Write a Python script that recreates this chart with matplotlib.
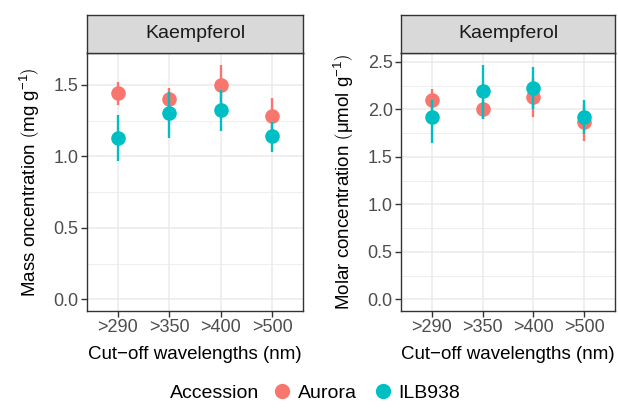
import matplotlib.pyplot as plt
import numpy as np
from matplotlib.lines import Line2D
from matplotlib.offsetbox import HPacker

plt.rcParams['font.family'] = ['Liberation Sans', 'DejaVu Sans']
plt.rcParams['mathtext.fontset'] = 'custom'
plt.rcParams['mathtext.rm'] = 'Liberation Sans'
plt.rcParams['mathtext.it'] = 'Liberation Sans:italic'

# Données
categories = ['>290', '>350', '>400', '>500']
accessions = ['Aurora', 'ILB938']
colors = {'Aurora': '#F8766D', 'ILB938': '#00BFC4'}

mass_mean = {'Aurora': [1.44, 1.40, 1.50, 1.28],
             'ILB938': [1.13, 1.30, 1.32, 1.14]}
mass_low = {'Aurora': [1.36, 1.33, 1.36, 1.15],
            'ILB938': [0.97, 1.13, 1.18, 1.03]}
mass_high = {'Aurora': [1.52, 1.48, 1.64, 1.41],
             'ILB938': [1.29, 1.45, 1.46, 1.24]}

molar_mean = {'Aurora': [2.10, 2.00, 2.13, 1.87],
              'ILB938': [1.92, 2.19, 2.22, 1.92]}
molar_low = {'Aurora': [2.00, 1.90, 1.92, 1.67],
             'ILB938': [1.65, 1.90, 2.00, 1.74]}
molar_high = {'Aurora': [2.21, 2.10, 2.33, 2.05],
              'ILB938': [2.10, 2.47, 2.45, 2.10]}

W, H = 618, 412
fig = plt.figure(figsize=(W / 100, H / 100), dpi=100)


def px_axes(x0, y0, x1, y1):
    # coordonnées en pixels (origine en haut à gauche)
    return fig.add_axes([x0 / W, 1 - y1 / H, (x1 - x0) / W, (y1 - y0) / H])


def panel(x0, x1, mean, low, high, ylabel, yticks, minor):
    ax = px_axes(x0, 53, x1, 311)
    strip = px_axes(x0, 15, x1, 53)
    strip.set_facecolor('#D9D9D9')
    strip.set_xticks([])
    strip.set_yticks([])
    for s in strip.spines.values():
        s.set_color('#333333')
        s.set_linewidth(1.0)
    strip.text(0.5, 0.5, 'Kaempferol', ha='center', va='center',
               fontsize=14, color='#1A1A1A', transform=strip.transAxes)

    xs = np.arange(1, len(categories) + 1)
    for acc in accessions:
        c = colors[acc]
        ax.vlines(xs, low[acc], high[acc], color=c, lw=1.7, zorder=3)
        ax.plot(xs, mean[acc], 'o', color=c, ms=10.5, mew=0, zorder=3)

    top = max(max(high[a]) for a in accessions)
    pad = 0.05 * top
    ax.set_ylim(-pad, top + pad)
    ax.set_xlim(0.4, 4.6)
    ax.set_xticks(xs)
    ax.set_xticklabels(categories)
    ax.set_yticks(yticks)
    ax.set_yticklabels(['%.1f' % v for v in yticks])
    ax.set_yticks(minor, minor=True)
    ax.grid(True, which='major', color='#EBEBEB', lw=1.1, zorder=0)
    ax.grid(True, which='minor', axis='y', color='#EBEBEB', lw=0.6, zorder=0)
    ax.set_axisbelow(True)
    ax.tick_params(axis='both', which='major', length=4, width=1.0,
                   color='#333333', labelcolor='#4D4D4D', labelsize=13, pad=2)
    ax.tick_params(axis='y', which='minor', length=0)
    for s in ax.spines.values():
        s.set_color('#333333')
        s.set_linewidth(1.0)
    ax.set_xlabel('Cut\u2212off wavelengths (nm)', fontsize=13.5, color='black', labelpad=7)
    ax.set_ylabel(ylabel, fontsize=13.5, color='black', labelpad=8)
    return ax


panel(87, 303, mass_mean, mass_low, mass_high,
      r'Mass oncentration $\left(\mathrm{mg\ g^{-1}}\right)$',
      [0.0, 0.5, 1.0, 1.5], [0.25, 0.75, 1.25])
panel(401, 615, molar_mean, molar_low, molar_high,
      r'Molar concentration $\left(\mathrm{\mu mol\ g^{-1}}\right)$',
      [0.0, 0.5, 1.0, 1.5, 2.0, 2.5], [0.25, 0.75, 1.25, 1.75, 2.25])

handles = [Line2D([], [], marker='o', ls='', color=colors[a], ms=11, mew=0)
           for a in accessions]
leg = fig.legend(handles, accessions, title='Accession', loc='center',
                 bbox_to_anchor=(0.51, 1 - 393 / H), ncol=2, frameon=False,
                 fontsize=14, title_fontsize=14, handletextpad=0.05,
                 columnspacing=0.6, handlelength=1.5)
# titre à gauche des éléments, comme ggplot
box = leg._legend_box
box._children = [HPacker(children=[box._children[0]] + box._children[1:],
                         align='center', pad=0, sep=6)]

fig.savefig('out.png', dpi=100)
